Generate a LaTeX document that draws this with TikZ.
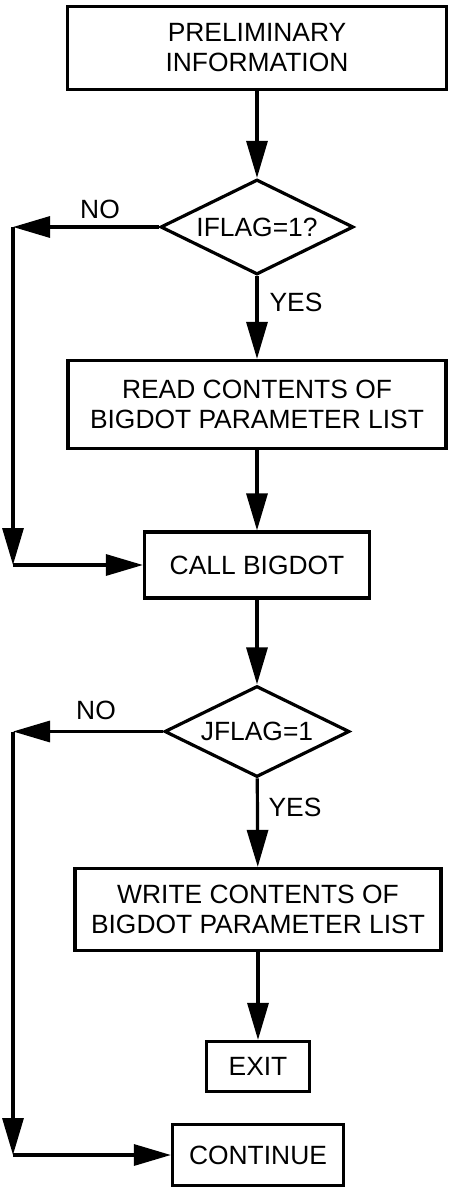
\documentclass[tikz,border=0pt]{standalone}
\usepackage{fontspec}
\setmainfont{Liberation Sans}
\usetikzlibrary{arrows.meta}
\usetikzlibrary{shapes.geometric}
\tikzset{
    fnode/.style = {align=center, inner sep=0pt, text centered, font=\fontsize{26.4}{30}\selectfont},
    proc_node/.style = {fnode, rectangle, draw=black, line width=3.2pt},
    dec_node/.style = {fnode, diamond, aspect=2, draw=black, line width=3.2pt},
    lbl/.style = {fnode}
}

\begin{document}
\begin{tikzpicture}
            [x=1pt, y=-1pt, ->, >={Triangle[length=37pt,width=21pt]}, line width=3.2pt]

            \useasboundingbox (0,0) rectangle (449,1188);

            % boxes and tests
            \node [proc_node, minimum width=379pt, minimum height=83pt] (prelim) at (257,48) {PRELIMINARY\\INFORMATION};
            \node [dec_node, minimum width=193pt, minimum height=95pt] (iflag) at (257,227) {IFLAG=1?};
            \node [proc_node, minimum width=378pt, minimum height=88pt] (readlist) at (257,404.5) {READ CONTENTS OF\\BIGDOT PARAMETER LIST};
            \node [proc_node, minimum width=225pt, minimum height=66pt] (callbd) at (257,565) {CALL BIGDOT};
            \node [dec_node, minimum width=185pt, minimum height=91pt] (jflag) at (257,731.5) {JFLAG=1};
            \node [proc_node, minimum width=366pt, minimum height=82pt] (writelist) at (258,909.5) {WRITE CONTENTS OF\\BIGDOT PARAMETER LIST};
            \node [proc_node, minimum width=103pt, minimum height=50pt] (exitbox) at (258,1066.5) {EXIT};
            \node [proc_node, minimum width=171pt, minimum height=61pt] (contbox) at (258,1155) {CONTINUE};

            % labels
            \node [lbl] (no_a) at (100,209) {NO};
            \node [lbl] (yes_a) at (296,302) {YES};
            \node [lbl] (no_b) at (96,710) {NO};
            \node [lbl] (yes_b) at (295,807) {YES};

            % bypass corners
            \coordinate (left_a) at (13,227);
            \coordinate (join_a) at (13,565);
            \coordinate (left_b) at (13,731.5);
            \coordinate (join_b) at (13,1155);

            \draw (prelim) -- (iflag);
            \draw (iflag) -- (readlist);
            \draw (readlist) -- (callbd);
            \draw (callbd) -- (jflag);
            \draw (jflag) -- (writelist);
            \draw (writelist.south -| exitbox) -- (exitbox);

            \draw (iflag.west) -- (left_a);
            \draw (left_a) -- (join_a);
            \draw (join_a) -- (callbd.west);
            \draw (jflag.west) -- (left_b);
            \draw (left_b) -- (join_b);
            \draw (join_b) -- (contbox.west);
\end{tikzpicture}
\end{document}
